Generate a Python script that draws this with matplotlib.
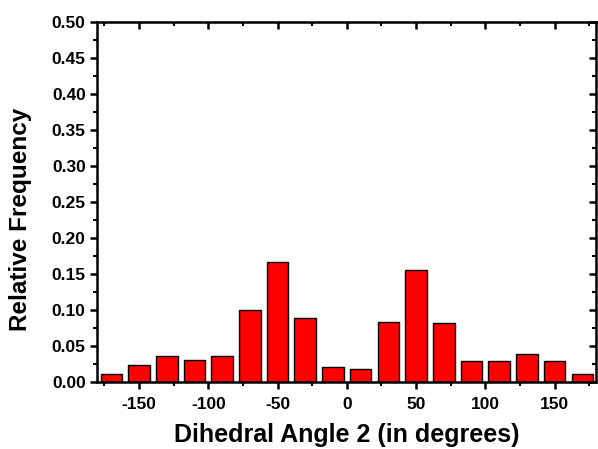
import matplotlib
matplotlib.use("Agg")
import matplotlib.pyplot as plt
import numpy as np
from matplotlib.ticker import MultipleLocator, FormatStrFormatter

plt.rcParams['font.family'] = ['Liberation Sans', 'DejaVu Sans']
plt.rcParams['font.weight'] = 'bold'
plt.rcParams['axes.unicode_minus'] = False

# histogram bins of 20 degrees from -180 to 180
bin_edges = list(range(-180, 181, 20))
rel_freq = [0.011, 0.023, 0.035, 0.030, 0.035, 0.100, 0.167, 0.088, 0.020,
            0.018, 0.083, 0.155, 0.081, 0.029, 0.029, 0.039, 0.029, 0.011]

centers = [(bin_edges[i] + bin_edges[i + 1]) / 2 for i in range(len(rel_freq))]

fig = plt.figure(figsize=(5.98, 4.49), dpi=100)
ax = fig.add_axes([0.163, 0.150, 0.834, 0.801])

ax.bar(centers, rel_freq, width=15.6, color='#ff0000', edgecolor='black', linewidth=1.0)

ax.set_xlim(-180, 180)
ax.set_ylim(0, 0.5)
ax.xaxis.set_major_locator(MultipleLocator(50))
ax.xaxis.set_minor_locator(MultipleLocator(25))
ax.yaxis.set_major_locator(MultipleLocator(0.05))
ax.yaxis.set_minor_locator(MultipleLocator(0.025))
ax.yaxis.set_major_formatter(FormatStrFormatter('%.2f'))

for s in ax.spines.values():
    s.set_linewidth(1.8)

ax.tick_params(which='major', direction='out', length=5, width=1.8, labelsize=12.5)
ax.tick_params(axis='x', which='major', pad=6)
ax.tick_params(which='minor', direction='out', length=3, width=1.5)

# mirrored ticks on top and right, pointing inward
top = ax.secondary_xaxis('top')
top.xaxis.set_major_locator(MultipleLocator(50))
top.xaxis.set_minor_locator(MultipleLocator(25))
top.tick_params(which='major', direction='in', length=5, width=1.8, labeltop=False)
top.tick_params(which='minor', direction='in', length=3, width=1.5)
right = ax.secondary_yaxis('right')
right.yaxis.set_major_locator(MultipleLocator(0.05))
right.yaxis.set_minor_locator(MultipleLocator(0.025))
right.tick_params(which='major', direction='in', length=5, width=1.8, labelright=False)
right.tick_params(which='minor', direction='in', length=3, width=1.5)

ax.set_xlabel('Dihedral Angle 2 (in degrees)', fontsize=18, fontweight='bold')
ax.set_ylabel('Relative Frequency', fontsize=17.5, fontweight='bold')
ax.xaxis.set_label_coords(0.5, -0.115)
ax.yaxis.set_label_coords(-0.131, 0.45)

fig.savefig('out.png', dpi=100)
